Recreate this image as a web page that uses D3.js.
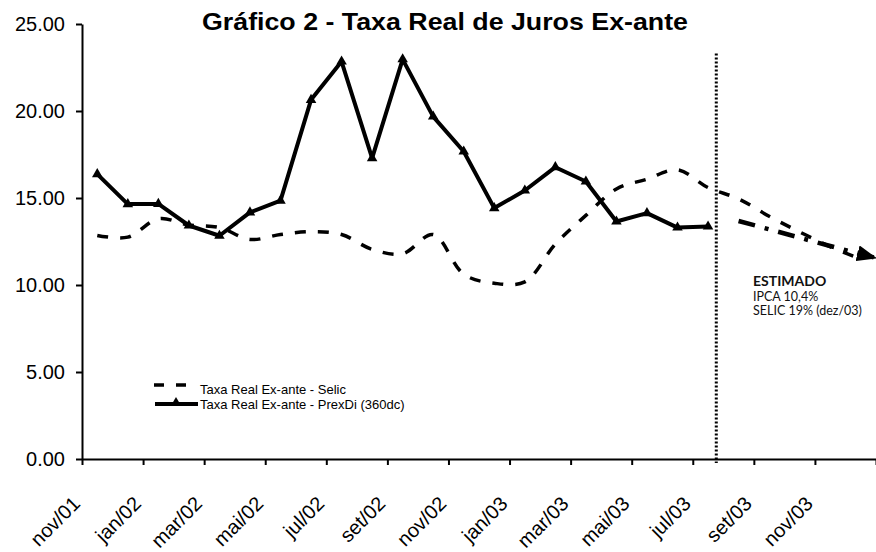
<!DOCTYPE html>
<html>
<head>
<meta charset="utf-8">
<script src="https://cdn.jsdelivr.net/npm/d3@7"></script>
<style>
  body { margin: 0; background: #fff; }
  svg { display: block; }
</style>
</head>
<body>
<svg id="chart" width="876" height="552"></svg>
<script>
// Categorias mensais do eixo X (nov/01 a dez/03)
const meses = ["nov/01","dez/01","jan/02","fev/02","mar/02","abr/02","mai/02","jun/02",
  "jul/02","ago/02","set/02","out/02","nov/02","dez/02","jan/03","fev/03","mar/03",
  "abr/03","mai/03","jun/03","jul/03","ago/03","set/03","out/03","nov/03","dez/03"];
// Rótulos exibidos (um a cada dois meses)
const rotulosEixo = ["nov/01","jan/02","mar/02","mai/02","jul/02","set/02","nov/02",
  "jan/03","mar/03","mai/03","jul/03","set/03","nov/03"];
const yTicks = [0, 5, 10, 15, 20, 25];

// Taxa Real Ex-ante - Selic (inclui trecho estimado até dez/03)
const selic = [12.85, 12.75, 13.8, 13.45, 13.3, 12.62, 12.9, 13.07, 12.9, 12.05, 11.8, 12.9,
  10.62, 10.1, 10.18, 12.35, 14.0, 15.52, 16.08, 16.62, 15.6, 14.95, 13.95, 13.05, 12.2, 11.5];
// Taxa Real Ex-ante - PrexDi (360dc), nov/01 a jul/03
const prexdi = [16.37, 14.65, 14.66, 13.42, 12.83, 14.17, 14.85, 20.64, 22.84, 17.29, 22.97,
  19.68, 17.67, 14.42, 15.43, 16.77, 15.95, 13.65, 14.13, 13.3, 13.36];
// Trajetória estimada da PrexDi
const mesesEstimados = ["ago/03","set/03","out/03","nov/03","dez/03"];
const prexdiEstimado = [13.68, 13.2, 12.72, 12.24, 11.78];
const inicioEstimativa = "jul/03";

const titulo = "Gráfico 2 - Taxa Real de Juros Ex-ante";
const legendas = ["Taxa Real Ex-ante - Selic", "Taxa Real Ex-ante - PrexDi (360dc)"];
const notaEstimado = ["ESTIMADO", "IPCA 10,4%", "SELIC 19% (dez/03)"];

const svg = d3.select("#chart");
const plot = { left: 82, right: 876, top: 24, bottom: 459 };
const fonte = "'Liberation Sans', Arial, sans-serif";

const x = d3.scaleBand().domain(meses).range([plot.left, plot.right]).padding(0);
const cx = m => x(m) + x.bandwidth() / 2;
const xLimites = d3.scaleLinear().domain([0, meses.length]).range([plot.left, plot.right]);
const y = d3.scaleLinear().domain([0, 25]).range([plot.bottom, plot.top]);

// Título
svg.append("text")
  .attr("x", 445).attr("y", 30)
  .attr("text-anchor", "middle")
  .attr("font-family", fonte).attr("font-weight", "bold").attr("font-size", 24)
  .attr("textLength", 486).attr("lengthAdjust", "spacingAndGlyphs")
  .text(titulo);

// Eixo Y
const eixoY = svg.append("g")
  .attr("transform", `translate(${plot.left},0)`)
  .call(d3.axisLeft(y).tickValues(yTicks).tickFormat(d3.format(".2f"))
    .tickSize(6).tickSizeOuter(0).tickPadding(11));
eixoY.select(".domain").attr("stroke-width", 2);
eixoY.selectAll(".tick line").attr("stroke-width", 2);
eixoY.selectAll(".tick text").attr("font-family", fonte).attr("font-size", 20).attr("fill", "#000");

// Eixo X (marcas a cada dois meses, nos limites das categorias)
const eixoX = svg.append("g")
  .attr("transform", `translate(0,${plot.bottom})`)
  .call(d3.axisBottom(xLimites).tickValues(d3.range(0, meses.length + 1, 2))
    .tickFormat("").tickSize(6).tickSizeOuter(0));
eixoX.select(".domain").attr("stroke-width", 2);
eixoX.selectAll(".tick line").attr("stroke-width", 2);

svg.append("g").selectAll("text")
  .data(rotulosEixo).join("text")
  .attr("transform", d => `translate(${cx(d) - 16},505) rotate(-45)`)
  .attr("text-anchor", "end")
  .attr("font-family", fonte).attr("font-size", 20)
  .text(d => d);

// Linha vertical pontilhada que separa o período estimado
const xSep = cx(inicioEstimativa) + x.bandwidth() * 0.27;
svg.append("line")
  .attr("x1", xSep).attr("x2", xSep)
  .attr("y1", y(23.3)).attr("y2", plot.bottom + 4)
  .attr("stroke", "#000").attr("stroke-width", 3)
  .attr("stroke-dasharray", "2,2");

// Selic (linha suavizada tracejada)
const linhaSelic = d3.line()
  .x((d, i) => cx(meses[i])).y(d => y(d))
  .curve(d3.curveCatmullRom.alpha(0.5));
svg.append("path")
  .attr("d", linhaSelic(selic))
  .attr("fill", "none").attr("stroke", "#000")
  .attr("stroke-width", 3.5).attr("stroke-dasharray", "11,12");

// PrexDi (linha contínua com triângulos)
const linhaPrex = d3.line().x((d, i) => cx(meses[i])).y(d => y(d));
svg.append("path")
  .attr("d", linhaPrex(prexdi))
  .attr("fill", "none").attr("stroke", "#000")
  .attr("stroke-width", 4).attr("stroke-linejoin", "round");
const triangulo = d3.symbol().type(d3.symbolTriangle).size(48);
svg.append("g").selectAll("path")
  .data(prexdi).join("path")
  .attr("transform", (d, i) => `translate(${cx(meses[i])},${y(d)})`)
  .attr("d", triangulo).attr("fill", "#000");

// Trajetória estimada da PrexDi (traço-ponto com seta até o fim do eixo)
svg.append("defs").append("marker")
  .attr("id", "seta").attr("markerUnits", "userSpaceOnUse")
  .attr("markerWidth", 20).attr("markerHeight", 16)
  .attr("refX", 18).attr("refY", 8).attr("orient", "auto")
  .append("path").attr("d", "M0,0 L20,8 L0,16 Z").attr("fill", "#000");
const ptsEst = mesesEstimados.map((m, i) => [cx(m), y(prexdiEstimado[i])]);
const [pA, pB] = ptsEst.slice(-2);
const inclinacao = (pB[1] - pA[1]) / (pB[0] - pA[0]);
ptsEst.push([plot.right - 1, pB[1] + (plot.right - 1 - pB[0]) * inclinacao]);
svg.append("path")
  .attr("d", d3.line()(ptsEst))
  .attr("fill", "none").attr("stroke", "#000")
  .attr("stroke-width", 4.5).attr("stroke-dasharray", "17,10,4,10")
  .attr("marker-end", "url(#seta)");

// Legenda
const leg = svg.append("g").attr("font-family", fonte).attr("font-size", 13);
leg.append("line")
  .attr("x1", 154).attr("x2", 186).attr("y1", 385).attr("y2", 385)
  .attr("stroke", "#000").attr("stroke-width", 3.5).attr("stroke-dasharray", "10,12");
leg.append("text").attr("x", 200).attr("y", 394).text(legendas[0]);
leg.append("line")
  .attr("x1", 155).attr("x2", 198).attr("y1", 404).attr("y2", 404)
  .attr("stroke", "#000").attr("stroke-width", 4);
leg.append("path").attr("transform", "translate(176,403)").attr("d", triangulo).attr("fill", "#000");
leg.append("text").attr("x", 200).attr("y", 409).text(legendas[1]);

// Nota do período estimado
const nota = svg.append("g").attr("font-family", "Lato, 'Open Sans', sans-serif").attr("fill", "#111");
nota.append("text").attr("x", 753).attr("y", 286)
  .attr("font-weight", "bold").attr("font-size", 14).text(notaEstimado[0]);
nota.append("text").attr("x", 753).attr("y", 301)
  .attr("font-size", 12.5).text(notaEstimado[1]);
nota.append("text").attr("x", 753).attr("y", 315)
  .attr("font-size", 12.5).text(notaEstimado[2]);
</script>
</body>
</html>
